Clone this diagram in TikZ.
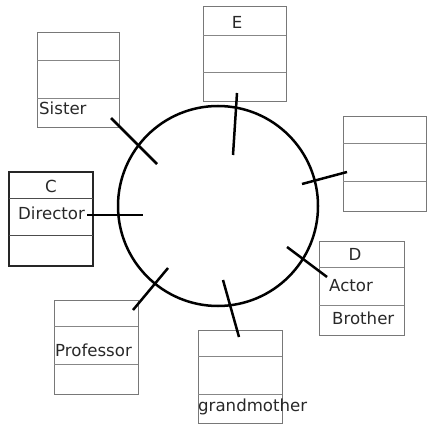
\documentclass[tikz,border=0pt]{standalone}
\usepackage{fontspec}
\setmainfont{DejaVu Sans}
\usepackage{tikz}
\usetikzlibrary{calc}
\definecolor{boxgray}{RGB}{120,120,120}
\definecolor{linegray}{RGB}{135,135,135}
\definecolor{textgray}{RGB}{40,40,40}

\begin{document}
\begin{tikzpicture}[x=1pt, y=-1pt,
    classbox/.style={draw=boxgray, line width=1pt, inner sep=0pt, outer sep=0pt},
    rowline/.style={draw=linegray, line width=0.9pt},
    lbl/.style={inner sep=0pt, text=textgray, font=\fontsize{16.6}{19}\selectfont},
    ringstyle/.style={circle, draw, line width=2.5pt, minimum size=200pt, inner sep=0pt},
    tick/.style={line width=2.5pt}]
  \useasboundingbox (0,0) rectangle (427,430);

  % Class boxes
  \foreach \n/\xa/\ya/\xb/\yb/\la/\lb in {
    sis/37/33/119/128/60/98,
    ee/203/7/286/102/35/72,
    rt/343/117/426/211/143/181,
    dd/319/241/404/335/267/305,
    gm/198/330/282/423/356/394,
    pr/54/300/138/394/326/364%
  }{
    \pgfmathsetmacro\bw{\xb-\xa}
    \pgfmathsetmacro\bh{\yb-\ya}
    \node[classbox, minimum width=\bw pt, minimum height=\bh pt] (\n)
      at ({(\xa+\xb)/2}, {(\ya+\yb)/2}) {};
    \draw[rowline] (\n.west |- 0,\la) -- (\n.east |- 0,\la);
    \draw[rowline] (\n.west |- 0,\lb) -- (\n.east |- 0,\lb);
  }

  % Class C (darker border)
  \node[classbox, draw=black!85, line width=1.4pt, minimum width=84pt, minimum height=94pt]
    (cc) at (51,219) {};
  \draw[rowline, draw=black!70] (cc.west |- 0,198) -- (cc.east |- 0,198);
  \draw[rowline, draw=black!70] (cc.west |- 0,235) -- (cc.east |- 0,235);

  % Labels
  \node[lbl, anchor=base west] (sist) at (39,115) {Sister};
  \node[lbl, anchor=base] (ctit) at (51,193) {C};
  \node[lbl, anchor=base west] (dirt) at (18,219) {Director};
  \node[lbl, anchor=base] (etit) at (237,29) {E};
  \node[lbl, anchor=base] (dtit) at (355,260) {D};
  \node[lbl, anchor=base west] (actt) at (329,291) {Actor};
  \node[lbl, anchor=base west] (brot) at (332,324) {Brother};
  \node[lbl, anchor=base west] (prot) at (55,356) {Professor};
  \node[lbl, anchor=base west] (gmt) at (198,411) {grandmother};

  % Ring
  \node[ringstyle] (ring) at (218,206) {};

  % Ticks across the ring
  \foreach \n/\xa/\ya/\xb/\yb in {
    sis/111/118/157/164,
    ee/237/93/233/155,
    rt/347/172/302/184,
    cc/87/215/143/215,
    pr/133/310/168/268,
    dd/287/247/327/277,
    gm/223/280/239/337%
  }{
    \coordinate (\n a) at (\xa,\ya);
    \coordinate (\n b) at (\xb,\yb);
    \draw[tick] (\n a) -- (\n b);
  }
\end{tikzpicture}
\end{document}
